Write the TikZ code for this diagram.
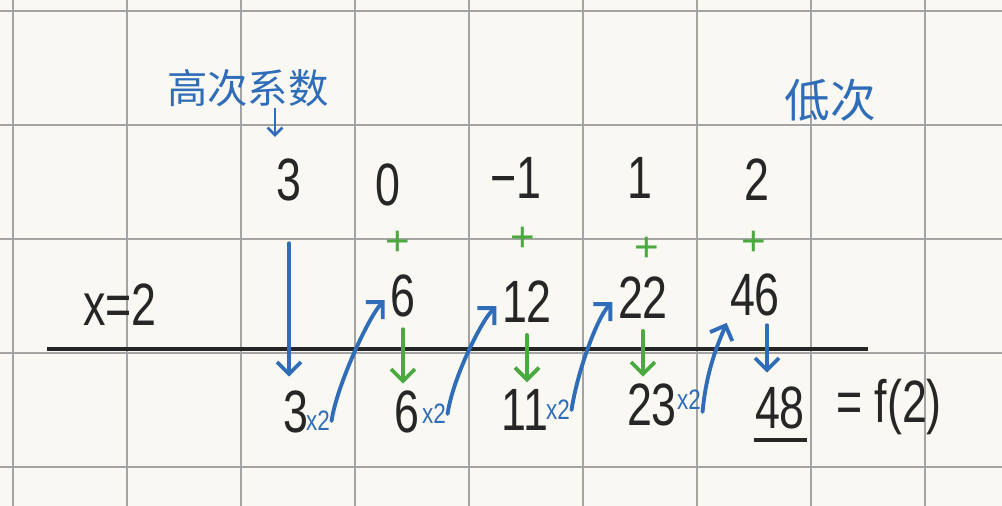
\documentclass[tikz,border=0pt]{standalone}
\usepackage{fontspec}
\setmainfont{Liberation Sans}
\newfontfamily\cjkfont{Noto Sans CJK SC}
\usetikzlibrary{arrows.meta,positioning,calc}

\definecolor{paper}{HTML}{FAF8F2}
\definecolor{gridline}{HTML}{A4A4A4}
\definecolor{inkblue}{HTML}{2F6DB9}
\definecolor{inkgreen}{HTML}{4AAA3F}
\definecolor{ink}{HTML}{262626}

\begin{document}
\begin{tikzpicture}[x=0.02cm, y=-0.02cm,
    every node/.style={inner sep=1pt},
    num/.style={text=ink, font=\fontsize{34}{34}\selectfont, xscale=0.75},
    tag/.style={text=inkblue, font=\fontsize{16}{16}\selectfont, xscale=0.8},
    plus/.style={text=inkgreen, font=\fontsize{24}{24}\selectfont},
    cjk/.style={text=inkblue, font=\cjkfont\fontsize{23}{23}\selectfont},
    bluearrow/.style={draw=inkblue, line width=2.2pt, line cap=round,
      -{Straight Barb[length=2.4mm,width=4.8mm]}},
    greenarrow/.style={bluearrow, draw=inkgreen}]
    % paper and grid
    \fill[paper] (0,0) rectangle (1002,506);
    \useasboundingbox (0,0) rectangle (1002,506);
    \foreach \gx in {13,127,...,925}
      \draw[gridline, line width=1.1pt] (\gx,0) -- (\gx,506);
    \foreach \gy in {11,125,...,467}
      \draw[gridline, line width=1.1pt] (0,\gy) -- (1002,\gy);
    \draw[ink, line width=2.8pt] (47,349) -- (868,349);

    % labels
    \node[cjk] (hi) at (248,88) {高次系数};
    \node[cjk, font=\cjkfont\fontsize{26}{26}\selectfont] (lo) at (830,100) {低次};
    \coordinate (hitip) at (275,137);
    \draw[bluearrow, line width=1.6pt, -{Straight Barb[length=1.5mm,width=3mm]}]
      (hi.south -| hitip) -- (hitip);

    % coefficients
    \node[num] (c0) at (289,180) {3};
    \node[num] (c1) at (388,185) {0};
    \node[num] (c2) at (516,178) {−1};
    \node[num] (c3) at (640,178) {1};
    \node[num] (c4) at (757,180) {2};
    \foreach \i/\px/\py in {1/398/243, 2/523/239, 3/647/249, 4/754/243}
      \node[plus] (p\i) at (\px,\py) {+};

    % products
    \node[num] (xv) at (120,305) {x=2};
    \node[num] (m1) at (403,296) {6};
    \node[num] (m2) at (527,302) {12};
    \node[num] (m3) at (643,298) {22};
    \node[num] (m4) at (755,295) {46};

    % sums
    \node[num] (b0) at (296,412) {3};
    \node[num] (b1) at (407,412) {6};
    \node[num] (b2) at (525,410) {11};
    \node[num] (b3) at (652,405) {23};
    \node[num] (b4) at (780,408) {48};
    \node[num] (fx) at (889,407) {= f(2)};
    \draw[ink, line width=2pt] ([yshift=-0.18cm]b4.south west) -- ([yshift=-0.18cm]b4.south east);
    \foreach \i/\tx/\ty in {0/318/421, 1/434/414, 2/558/410, 3/689/400}
      \node[tag] (t\i) at (\tx,\ty) {x2};

    % arrows
    \draw[bluearrow, shorten <=0.8cm, shorten >=0.24cm] (c0.south) -- (c0.south |- b0.north);
    \foreach \i in {1,2,3}
      \draw[greenarrow, shorten <=0.2cm, shorten >=0.1cm] (m\i.south) -- (m\i.south |- b\i.north);
    \draw[bluearrow, shorten <=0.14cm, shorten >=0.24cm]
      ([xshift=0.24cm]m4.south) -- ([xshift=0.24cm]m4.south |- b4.north);
    \foreach \t/\m/\a in {t0/m1/west, t1/m2/west, t2/m3/west}
      \draw[bluearrow, shorten >=0.12cm] (\t.east) .. controls +(5,-35) and +(-20,20) .. (\m.\a);
    \draw[bluearrow, shorten >=0.1cm] (t3.south east) .. controls +(4,-45) and +(-8,20) .. (m4.south west);
\end{tikzpicture}
\end{document}
